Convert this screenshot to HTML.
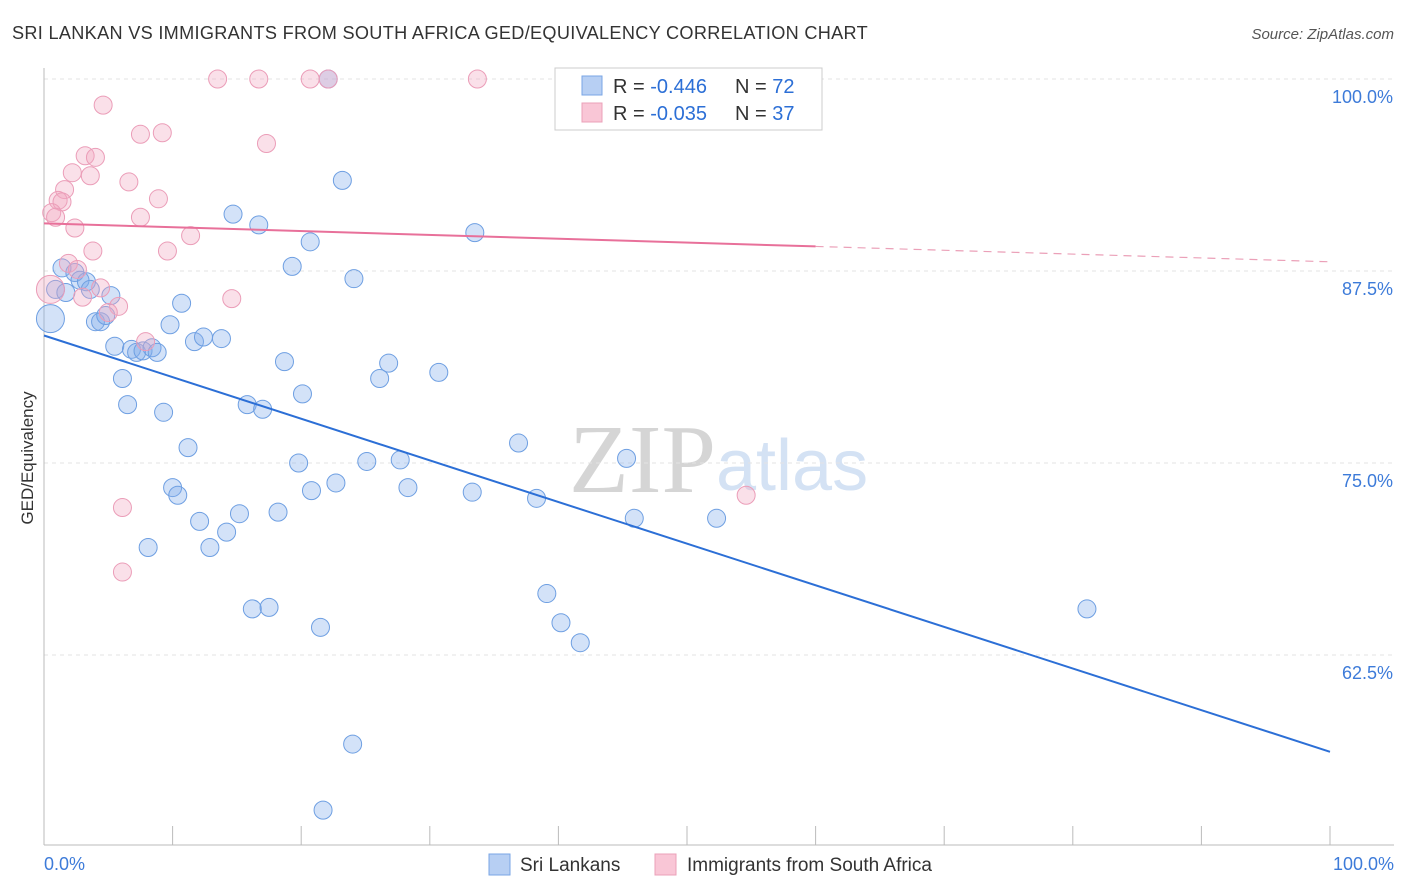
<!DOCTYPE html>
<html><head><meta charset="utf-8"><style>
body{margin:0;background:#fff;font-family:"Liberation Sans",sans-serif;}
svg{display:block}
</style></head><body>
<svg width="1406" height="892" viewBox="0 0 1406 892" id="chart">
<text x="12" y="39" font-size="18" letter-spacing="0.3" fill="#333" textLength="856" lengthAdjust="spacingAndGlyphs">SRI LANKAN VS IMMIGRANTS FROM SOUTH AFRICA GED/EQUIVALENCY CORRELATION CHART</text>
<text x="1394" y="39" font-size="15" fill="#555" font-style="italic" text-anchor="end">Source: ZipAtlas.com</text>
<text x="33" y="458" font-size="17" fill="#333" text-anchor="middle" transform="rotate(-90 33 458)">GED/Equivalency</text>
<text x="716" y="492" font-size="98" fill="#d5d5d5" text-anchor="end" font-family="Liberation Serif">ZIP</text>
<text x="716" y="490" font-size="72" fill="#d4e2f4">atlas</text>
<g id="grid"></g><g id="axes"></g><g id="pts"></g><g id="lines"></g>
<g>
<rect x="555" y="68" width="267" height="62" fill="#fff" stroke="#ccc"/>
<rect x="582" y="76" width="20" height="19" fill="#b7cff3" stroke="#7aa6e4"/>
<rect x="582" y="103" width="20" height="19" fill="#f9c6d6" stroke="#eba0b8"/>
<text x="613" y="93" font-size="20" fill="#333">R = <tspan fill="#2c6fd6">-0.446</tspan><tspan x="735">N = </tspan><tspan fill="#2c6fd6">72</tspan></text>
<text x="613" y="120" font-size="20" fill="#333">R = <tspan fill="#2c6fd6">-0.035</tspan><tspan x="735">N = </tspan><tspan fill="#2c6fd6">37</tspan></text>
</g>
<g>
<rect x="489" y="854" width="21" height="21" fill="#b7cff3" stroke="#7aa6e4"/>
<text x="520" y="871" font-size="19" fill="#333">Sri Lankans</text>
<rect x="655" y="854" width="21" height="21" fill="#f9c6d6" stroke="#eba0b8"/>
<text x="687" y="871" font-size="19" fill="#333">Immigrants from South Africa</text>
</g>
</svg>
<script>
const blueX=[1.4,2.4,2.8,3.3,0.9,1.7,3.6,5.2,0.5,4.0,4.4,4.8,5.5,6.8,7.2,7.7,8.4,8.8,6.1,6.5,9.3,9.8,10.7,11.7,12.4,13.8,11.2,10.0,10.4,12.1,14.2,15.2,8.1,12.9,14.7,16.7,15.8,17.0,18.2,16.2,17.5,19.3,18.7,19.8,20.1,20.8,20.7,21.5,22.7,23.2,24.1,24.0,21.7,25.1,26.1,26.8,27.7,28.3,30.7,33.3,33.5,36.9,38.3,39.1,40.2,41.7,45.3,45.9,52.3,81.1,22.1];
const blueY=[87.7,87.4,86.9,86.8,86.3,86.1,86.3,85.9,84.4,84.2,84.2,84.6,82.6,82.4,82.2,82.3,82.5,82.2,80.5,78.8,78.3,84.0,85.4,82.9,83.2,83.1,76.0,73.4,72.9,71.2,70.5,71.7,69.5,69.5,91.2,90.5,78.8,78.5,71.8,65.5,65.6,87.8,81.6,75.0,79.5,73.2,89.4,64.3,73.7,93.4,87.0,56.7,52.4,75.1,80.5,81.5,75.2,73.4,80.9,73.1,90.0,76.3,72.7,66.5,64.6,63.3,75.3,71.4,71.4,65.5,100];
const pinkX=[13.5,16.7,20.7,22.1,33.7,4.6,7.5,9.2,17.3,3.2,4.0,2.2,3.6,6.6,1.6,1.1,1.4,8.9,0.6,0.9,7.5,2.4,11.4,3.8,9.6,1.9,2.6,4.4,3.0,14.6,5.8,5.0,7.9,6.1,6.1,54.6,0.5];
const pinkY=[100,100,100,100,100,98.3,96.4,96.5,95.8,95.0,94.9,93.9,93.7,93.3,92.8,92.1,92.0,92.2,91.3,91.0,91.0,90.3,89.8,88.8,88.8,88.0,87.6,86.4,85.8,85.7,85.2,84.8,82.9,72.1,67.9,72.9,86.3];
const yTicks=[100,87.5,75,62.5];
const yTickLabels=["100.0%","87.5%","75.0%","62.5%"];
const blueTrend=[83.3,56.2];
const pinkTrend=[90.6,88.1];
const pinkSolidEnd=60;
const NS="http://www.w3.org/2000/svg";
const X=v=>44+v*12.86, Y=v=>79+(100-v)*15.36;
function mk(t,a,p){const e=document.createElementNS(NS,t);for(const k in a)e.setAttribute(k,a[k]);p.appendChild(e);return e;}
const grid=document.getElementById('grid'),axes=document.getElementById('axes'),pts=document.getElementById('pts'),lines=document.getElementById('lines');
yTicks.forEach((t,i)=>{
 const g=mk('line',{x1:44,x2:1394,y1:Y(t),y2:Y(t),stroke:'#e3e3e3','stroke-dasharray':'4 4'},grid);
 
 
 const l=mk('text',{x:1393,y:Y(t)+24,'font-size':18,fill:'#3d7bd9','text-anchor':'end'},axes);
 l.textContent=yTickLabels[i];
 
 
});
const ax=mk('line',{x1:44,x2:44,y1:68,y2:845,stroke:'#bbb'},axes);


const bx=mk('line',{x1:44,x2:1394,y1:845,y2:845,stroke:'#bbb'},axes);


for(let i=1;i<=10;i++){const t=mk('line',{x1:X(i*10),x2:X(i*10),y1:826,y2:845,stroke:'#bbb'},axes);
 
 }
[[0,"0.0%",'start',44],[100,"100.0%",'end',1394]].forEach(d=>{const t=mk('text',{x:d[3],y:870,'font-size':18,fill:'#3d7bd9','text-anchor':d[2]},axes);t.textContent=d[1];
 
 });
function dots(xs,ys,fill,stroke,name,bigY){xs.forEach((x,i)=>{const big=(x<=0.5&&ys[i]==bigY);
 const c=mk('circle',{cx:X(x),cy:Y(ys[i]),r:big?14:9,fill:fill,stroke:stroke,'stroke-width':1},pts);
 
 });}
dots(blueX,blueY,'rgba(130,172,235,0.35)','#6e9fe2','sri-lankan-point',84.4);
dots(pinkX,pinkY,'rgba(242,165,192,0.35)','#eb9db8','south-africa-point',86.3);
const bl=mk('line',{x1:X(0),y1:Y(blueTrend[0]),x2:X(100),y2:Y(blueTrend[1]),stroke:'#2c6fd6','stroke-width':2},lines);


const pm=pinkTrend[0]+(pinkTrend[1]-pinkTrend[0])*pinkSolidEnd/100;
const pl=mk('line',{x1:X(0),y1:Y(pinkTrend[0]),x2:X(pinkSolidEnd),y2:Y(pm),stroke:'#e8709a','stroke-width':2},lines);


const pd=mk('line',{x1:X(pinkSolidEnd),y1:Y(pm),x2:X(100),y2:Y(pinkTrend[1]),stroke:'#eba0b8','stroke-width':1.2,'stroke-dasharray':'8 6'},lines);


</script>
</body></html>
